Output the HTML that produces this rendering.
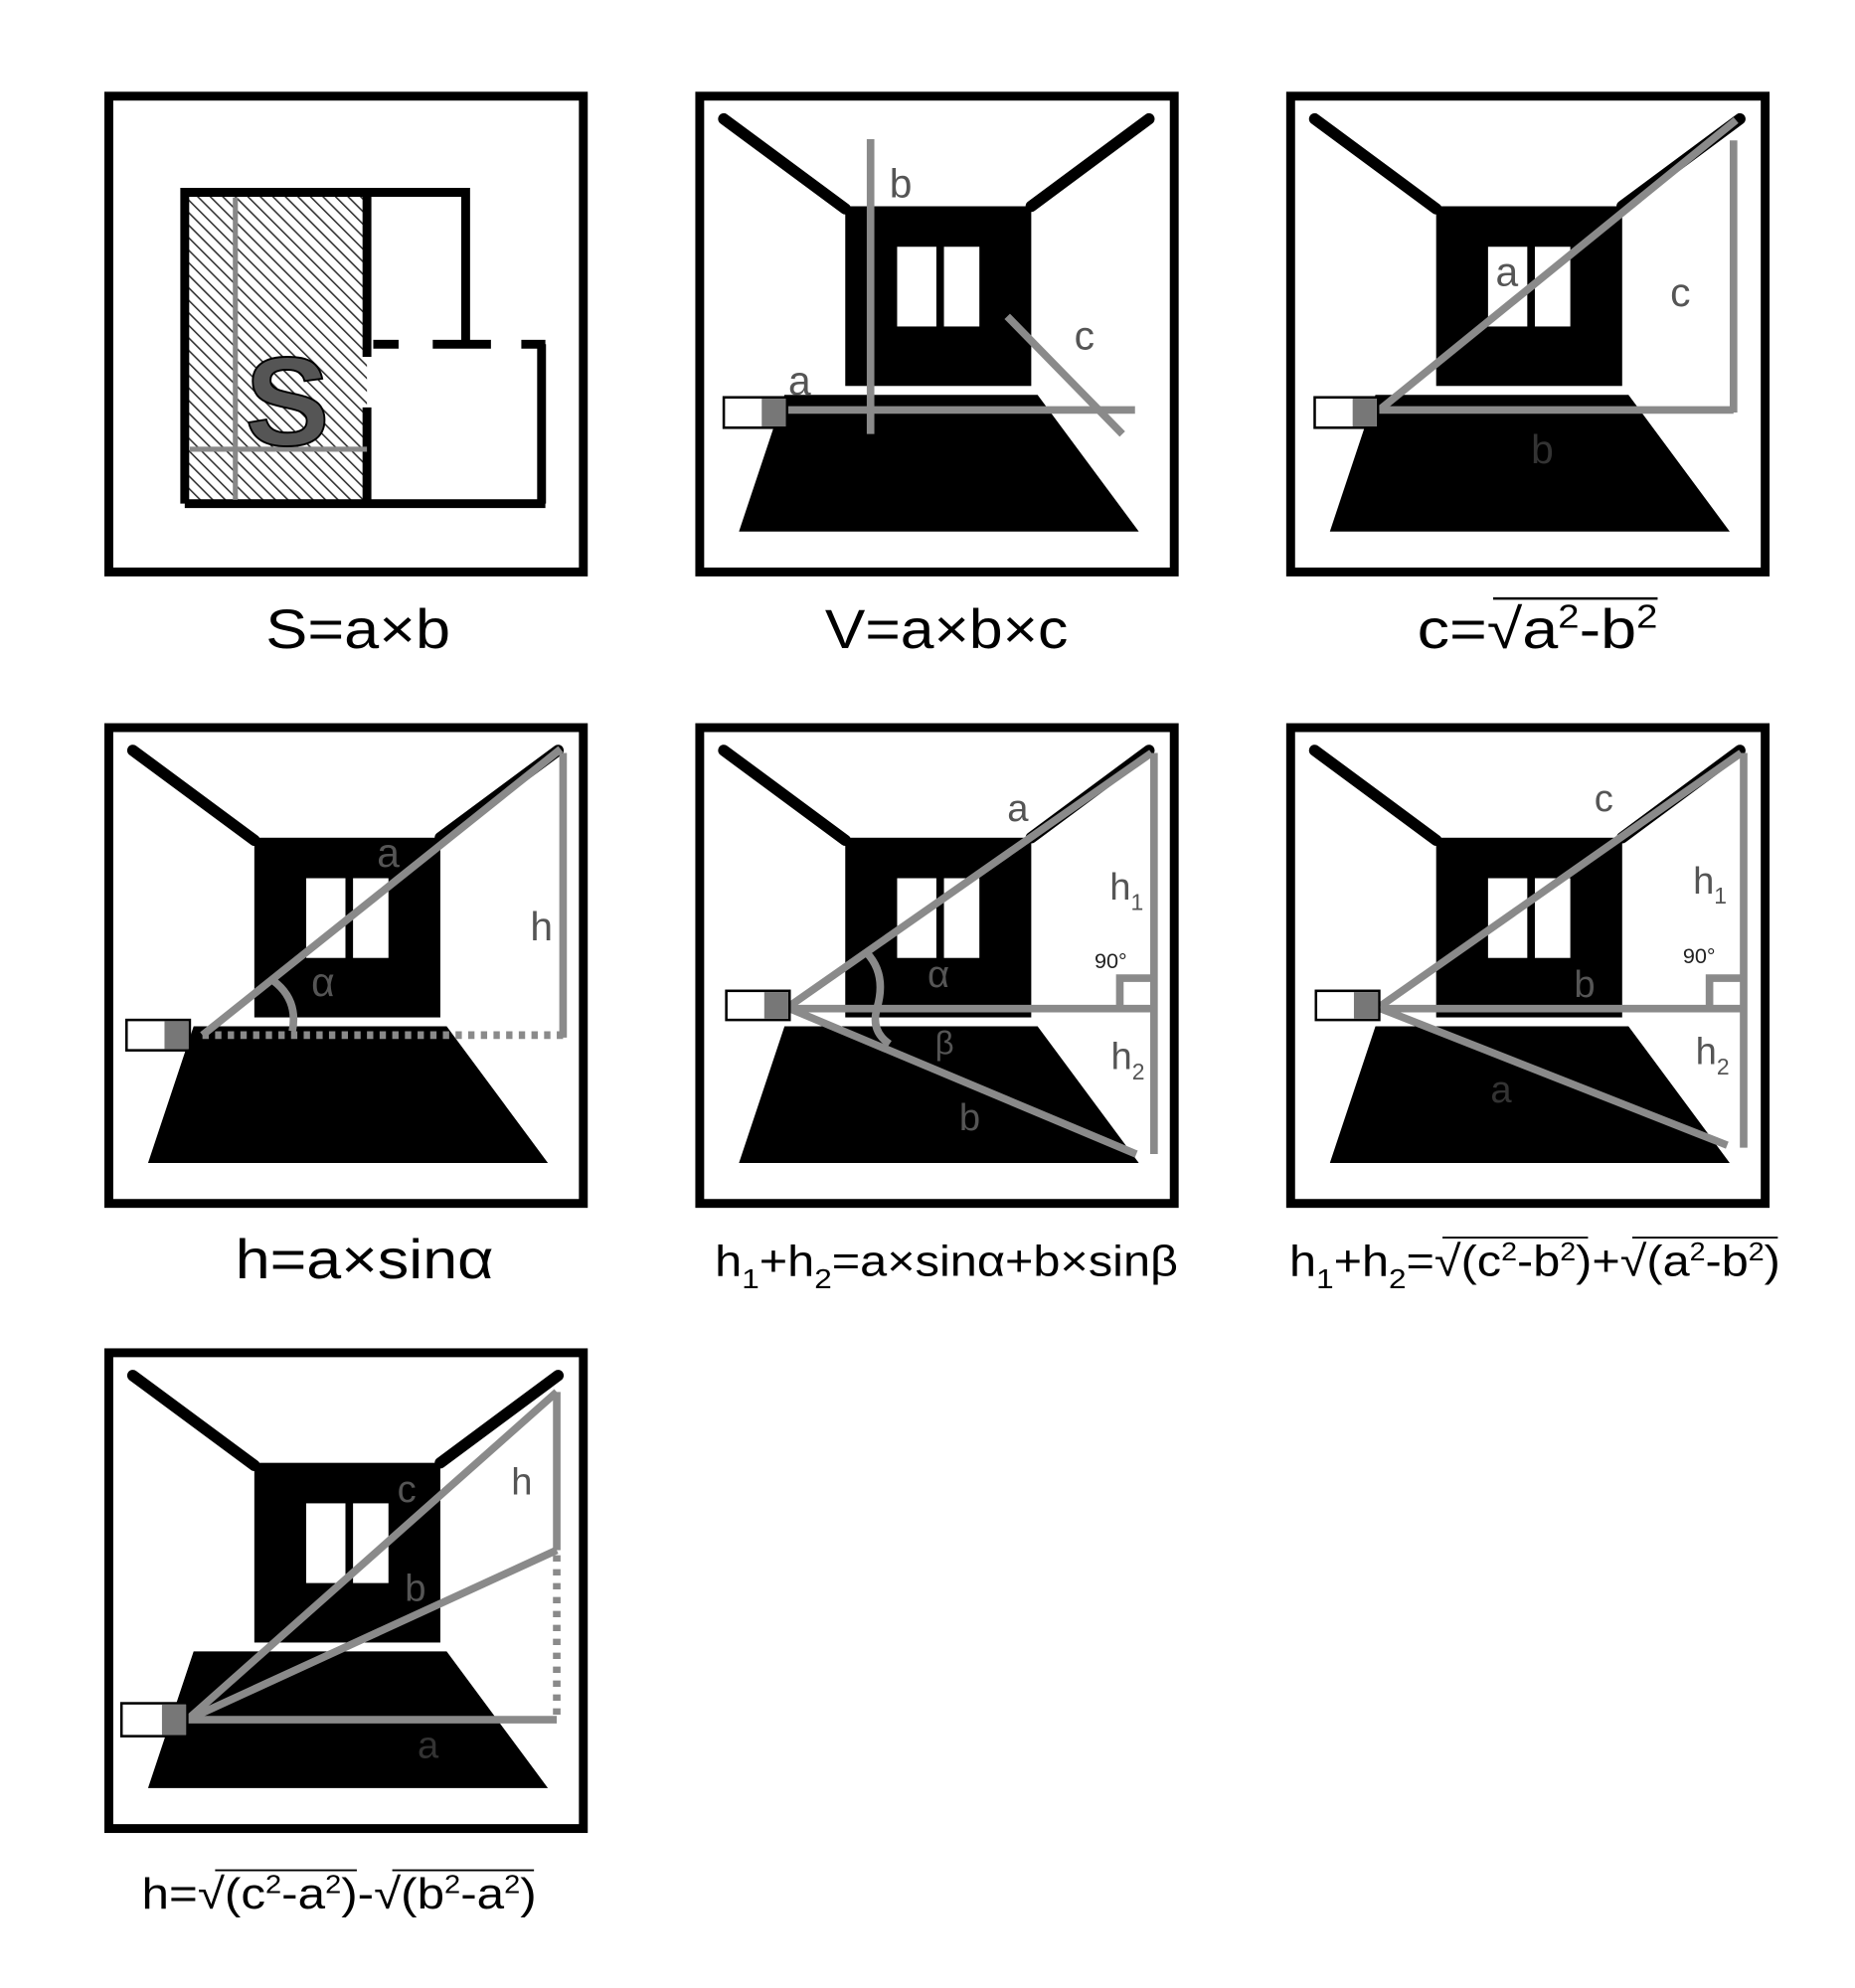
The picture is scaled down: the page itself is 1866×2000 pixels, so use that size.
<!DOCTYPE html>
<html><head><meta charset="utf-8"><style>html,body{margin:0;padding:0;background:#fff}svg{display:block}</style></head><body>
<svg width="1866" height="2000" viewBox="0 0 1466 1571" preserveAspectRatio="none" xmlns="http://www.w3.org/2000/svg" font-family="Liberation Sans, Arial, sans-serif">
<defs>
<pattern id="hatch" width="7" height="7" patternUnits="userSpaceOnUse" patternTransform="rotate(-45)">
<rect width="7" height="7" fill="#fff"/><line x1="0" y1="0" x2="0" y2="7" stroke="#333" stroke-width="2.5"/></pattern>
<g id="room">
<rect x="0" y="0" width="375" height="376" fill="#fff" stroke="#000" stroke-width="7"/>
<line x1="19" y1="18" x2="115" y2="89" stroke="#000" stroke-width="9" stroke-linecap="round"/>
<line x1="355" y1="18" x2="262" y2="87" stroke="#000" stroke-width="9" stroke-linecap="round"/>
<rect x="115" y="87" width="147" height="142" fill="#000"/>
<rect x="156" y="119" width="31" height="63" fill="#fff"/>
<rect x="193" y="119" width="28" height="63" fill="#fff"/>
<polygon points="67,236 267,236 347,344 31,344" fill="#000"/>
</g>
</defs>

<!-- Panel 1 -->
<rect x="86" y="76" width="375" height="376" fill="#fff" stroke="#000" stroke-width="7"/>
<rect x="149" y="155" width="141" height="241" fill="url(#hatch)"/>
<g stroke="#000" stroke-width="7" fill="none">
<polyline points="146,398 146,152 368,152 368,272"/>
<line x1="290" y1="152" x2="290" y2="282"/>
<line x1="290" y1="322" x2="290" y2="398"/>
<line x1="146" y1="398" x2="431" y2="398"/>
<line x1="428" y1="272" x2="428" y2="398"/>
<line x1="295" y1="272" x2="315" y2="272"/>
<line x1="342" y1="272" x2="388" y2="272"/>
<line x1="412" y1="272" x2="431" y2="272"/>
</g>
<line x1="186" y1="156" x2="186" y2="395" stroke="#888" stroke-width="4"/>
<line x1="150" y1="355" x2="290" y2="355" stroke="#888" stroke-width="4"/>
<text x="227" y="352" font-size="100" font-weight="bold" fill="#555" text-anchor="middle" stroke="#000" stroke-width="1.5">S</text>

<!-- Panel 2 -->
<g transform="translate(553,76)">
<use href="#room"/>
<g stroke="#8a8a8a" stroke-width="6" fill="none">
<line x1="135" y1="34" x2="135" y2="267"/>
<line x1="69" y1="248" x2="344" y2="248"/>
<line x1="243" y1="174" x2="334" y2="267"/>
</g>
<rect x="19" y="238" width="50" height="24" fill="#fff" stroke="#000" stroke-width="2"/><rect x="49" y="239" width="19" height="22" fill="#777"/>
<g font-size="32" fill="#555"><text x="150" y="80">b</text><text x="296" y="200">c</text><text x="70" y="236">a</text></g>
</g>

<!-- Panel 3 -->
<g transform="translate(1020,76)">
<use href="#room"/>
<g stroke="#8a8a8a" stroke-width="6" fill="none">
<line x1="70" y1="248" x2="352" y2="19"/>
<line x1="70" y1="248" x2="350" y2="248"/>
<line x1="350" y1="35" x2="350" y2="250"/>
</g>
<rect x="19" y="238" width="50" height="24" fill="#fff" stroke="#000" stroke-width="2"/><rect x="49" y="239" width="19" height="22" fill="#777"/>
<g font-size="32" fill="#555"><text x="162" y="150">a</text><text x="300" y="166">c</text><text x="190" y="290" fill="#333">b</text></g>
</g>

<!-- Panel 4 -->
<g transform="translate(86,575)">
<use href="#room"/>
<g stroke="#8a8a8a" stroke-width="6" fill="none">
<line x1="74" y1="243" x2="357" y2="17"/>
<line x1="359" y1="20" x2="359" y2="245"/>
<line x1="74" y1="243" x2="359" y2="243" stroke-dasharray="5 5"/>
<path d="M130 200 Q150 215 145 240"/>
</g>
<rect x="14" y="231" width="50" height="24" fill="#fff" stroke="#000" stroke-width="2"/><rect x="44" y="232" width="19" height="22" fill="#777"/>
<g font-size="32" fill="#555"><text x="212" y="110">a</text><text x="333" y="168">h</text><text x="160" y="212">α</text></g>
</g>

<!-- Panel 5 -->
<g transform="translate(553,575)">
<use href="#room"/>
<g stroke="#8a8a8a" stroke-width="6" fill="none">
<line x1="71" y1="220" x2="357" y2="20"/>
<line x1="71" y1="222" x2="359" y2="222"/>
<line x1="71" y1="222" x2="345" y2="337"/>
<line x1="359" y1="20" x2="359" y2="337"/>
<polyline points="332,222 332,198 359,198"/>
<path d="M132 178 Q148 195 140 222 Q135 240 150 250"/>
</g>
<rect x="21" y="208" width="50" height="23" fill="#fff" stroke="#000" stroke-width="2"/><rect x="51" y="209" width="19" height="21" fill="#777"/>
<g font-size="30" fill="#555"><text x="243" y="74">a</text><text x="324" y="136">h<tspan font-size="18" dy="8">1</tspan></text><text x="312" y="190" font-size="17" fill="#222">90°</text><text x="180" y="205">α</text><text x="186" y="258" font-size="26">β</text><text x="325" y="270">h<tspan font-size="18" dy="8">2</tspan></text><text x="205" y="318">b</text></g>
</g>

<!-- Panel 6 -->
<g transform="translate(1020,575)">
<use href="#room"/>
<g stroke="#8a8a8a" stroke-width="6" fill="none">
<line x1="71" y1="220" x2="356" y2="20"/>
<line x1="71" y1="222" x2="358" y2="222"/>
<line x1="71" y1="222" x2="345" y2="330"/>
<line x1="358" y1="20" x2="358" y2="332"/>
<polyline points="331,222 331,198 358,198"/>
</g>
<rect x="20" y="208" width="50" height="23" fill="#fff" stroke="#000" stroke-width="2"/><rect x="50" y="209" width="19" height="21" fill="#777"/>
<g font-size="30" fill="#555"><text x="240" y="66">c</text><text x="318" y="131">h<tspan font-size="18" dy="8">1</tspan></text><text x="310" y="186" font-size="17" fill="#222">90°</text><text x="224" y="213">b</text><text x="320" y="266">h<tspan font-size="18" dy="8">2</tspan></text><text x="158" y="296" fill="#333">a</text></g>
</g>

<!-- Panel 7 -->
<g transform="translate(86,1069)">
<use href="#room"/>
<g stroke="#8a8a8a" stroke-width="6" fill="none">
<line x1="62" y1="290" x2="354" y2="31"/>
<line x1="62" y1="290" x2="354" y2="156"/>
<line x1="62" y1="290" x2="354" y2="290"/>
<line x1="354" y1="31" x2="354" y2="156"/>
<line x1="354" y1="160" x2="354" y2="290" stroke-dasharray="5 6"/>
</g>
<rect x="10" y="277" width="52" height="26" fill="#fff" stroke="#000" stroke-width="2"/><rect x="42" y="278" width="19" height="24" fill="#777"/>
<g font-size="30" fill="#555"><text x="318" y="112">h</text><text x="228" y="118">c</text><text x="234" y="196">b</text><text x="244" y="320" fill="#333">a</text></g>
</g>

<!-- Captions -->
<g fill="#000" text-anchor="middle">
<text x="283" y="512" font-size="44" textLength="146" lengthAdjust="spacingAndGlyphs">S=a×b</text>
<text x="748" y="512" font-size="44" textLength="192" lengthAdjust="spacingAndGlyphs">V=a×b×c</text>
<text x="1215" y="512" font-size="44" textLength="190" lengthAdjust="spacingAndGlyphs">c=√a<tspan font-size="26" dy="-16">2</tspan><tspan dy="16">-b</tspan><tspan font-size="26" dy="-16">2</tspan></text>
<line x1="1180" y1="473" x2="1310" y2="473" stroke="#000" stroke-width="2"/>
<text x="288" y="1010" font-size="44" textLength="204" lengthAdjust="spacingAndGlyphs">h=a×sinα</text>
<text x="748" y="1008" font-size="34" textLength="366" lengthAdjust="spacingAndGlyphs">h<tspan font-size="22" dy="10">1</tspan><tspan dy="-10">+h</tspan><tspan font-size="22" dy="10">2</tspan><tspan dy="-10">=a×sinα+b×sinβ</tspan></text>
<text x="1213" y="1008" font-size="34" textLength="388" lengthAdjust="spacingAndGlyphs">h<tspan font-size="22" dy="10">1</tspan><tspan dy="-10">+h</tspan><tspan font-size="22" dy="10">2</tspan><tspan dy="-10">=√(c</tspan><tspan font-size="20" dy="-12">2</tspan><tspan dy="12">-b</tspan><tspan font-size="20" dy="-12">2</tspan><tspan dy="12">)+√(a</tspan><tspan font-size="20" dy="-12">2</tspan><tspan dy="12">-b</tspan><tspan font-size="20" dy="-12">2</tspan><tspan dy="12">)</tspan></text>
<line x1="1140" y1="978" x2="1255" y2="978" stroke="#000" stroke-width="1.5"/>
<line x1="1290" y1="978" x2="1405" y2="978" stroke="#000" stroke-width="1.5"/>
<text x="268" y="1508" font-size="34" textLength="312" lengthAdjust="spacingAndGlyphs">h=√(c<tspan font-size="20" dy="-12">2</tspan><tspan dy="12">-a</tspan><tspan font-size="20" dy="-12">2</tspan><tspan dy="12">)-√(b</tspan><tspan font-size="20" dy="-12">2</tspan><tspan dy="12">-a</tspan><tspan font-size="20" dy="-12">2</tspan><tspan dy="12">)</tspan></text>
<line x1="170" y1="1478" x2="282" y2="1478" stroke="#000" stroke-width="1.5"/>
<line x1="310" y1="1478" x2="422" y2="1478" stroke="#000" stroke-width="1.5"/>
</g>
</svg>
</body></html>
